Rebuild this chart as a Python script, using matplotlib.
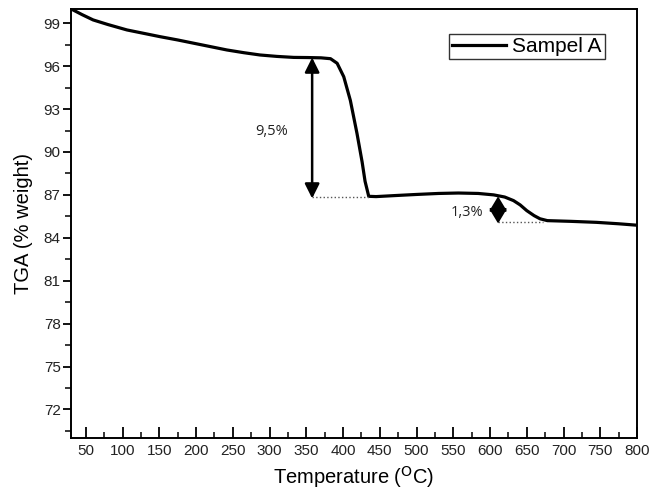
import matplotlib
matplotlib.use("Agg")
import matplotlib.pyplot as plt
from matplotlib.ticker import MultipleLocator

plt.rcParams['font.family'] = ['Liberation Sans', 'DejaVu Sans']

# TGA data
temperature = [30, 45, 60, 80, 106, 130, 151, 175, 197, 220, 242, 265, 287, 310, 333,
               352, 370, 383, 392, 401, 410, 419, 426, 430, 435, 445, 470, 500, 530,
               557, 584, 605, 620, 632, 641, 650, 660, 668, 678, 710, 745, 775, 800]
weight = [100, 99.6, 99.23, 98.91, 98.53, 98.28, 98.06, 97.83, 97.6, 97.36, 97.13,
          96.94, 96.78, 96.68, 96.61, 96.6, 96.58, 96.52, 96.2, 95.26, 93.6, 91.3, 89.3,
          87.95, 86.9, 86.88, 86.95, 87.03, 87.1, 87.13, 87.1, 87.0, 86.85, 86.6, 86.3,
          85.9, 85.55, 85.33, 85.2, 85.15, 85.08, 84.98, 84.88]

# weight-loss steps: x of arrow, top, bottom, end of dotted line, label, label x, label y
step_x = [358, 611]
step_top = [96.6, 86.9]
step_bottom = [86.75, 85.0]
step_end = [435, 672]
step_labels = ['9,5%', '1,3%']
label_x = [303, 568]
label_y = [91.45, 85.8]

fig = plt.figure(figsize=(6.52, 4.95), dpi=100)
ax = fig.add_axes([0.109, 0.115, 0.868, 0.867])

ax.plot(temperature, weight, color='black', linewidth=2.3, label='Sampel A',
        solid_joinstyle='round')

# arrows for the two mass losses
arrow_style = [dict(mutation_scale=22, lw=1.8, hl=0.4, hw=0.2),
               dict(mutation_scale=18, lw=1.5, hl=0.5, hw=0.3)]
for i in range(2):
    st = arrow_style[i]
    ax.plot([step_x[i], step_end[i]], [step_bottom[i] + 0.08, step_bottom[i] + 0.08],
            color='#555555', linestyle=':', linewidth=1)
    ax.annotate('', xy=(step_x[i], step_bottom[i]), xytext=(step_x[i], step_top[i]),
                arrowprops=dict(arrowstyle='<|-|>,head_length=%g,head_width=%g' % (st['hl'], st['hw']),
                                color='black', lw=st['lw'],
                                mutation_scale=st['mutation_scale'], shrinkA=0, shrinkB=0))
    ax.text(label_x[i], label_y[i], step_labels[i], ha='center', va='center',
            fontsize=10.5, family='Open Sans', color='#222222')

ax.set_xlim(30, 800)
ax.set_ylim(70, 100)
ax.xaxis.set_major_locator(MultipleLocator(50))
ax.xaxis.set_minor_locator(MultipleLocator(25))
ax.yaxis.set_major_locator(MultipleLocator(3))
ax.yaxis.set_minor_locator(MultipleLocator(1.5))
ax.set_yticks(list(range(72, 100, 3)))

ax.tick_params(axis='x', which='major', direction='in', length=8, width=1.3,
               labelsize=11, pad=4, labelcolor='#222222')
ax.tick_params(axis='x', which='minor', direction='in', length=4, width=1.1)
ax.tick_params(axis='y', which='major', direction='out', length=6, width=1.3,
               labelsize=11, pad=1.5, labelcolor='#222222')
ax.tick_params(axis='y', which='minor', direction='out', length=4, width=1.1)
for s in ax.spines.values():
    s.set_linewidth(1.4)

ax.set_xlabel('Temperature ($^{\\mathrm{O}}$C)', fontsize=14.5, labelpad=5)
ax.set_ylabel('TGA (% weight)', fontsize=14.5, labelpad=8)

leg = ax.legend(loc='upper right', bbox_to_anchor=(0.943, 0.942), fontsize=15,
                frameon=True, fancybox=False, handlelength=2.6, borderpad=0.15,
                handletextpad=0.3, borderaxespad=0)
leg.get_frame().set_edgecolor('black')
leg.get_frame().set_linewidth(1)

fig.savefig('out.png', dpi=100)
